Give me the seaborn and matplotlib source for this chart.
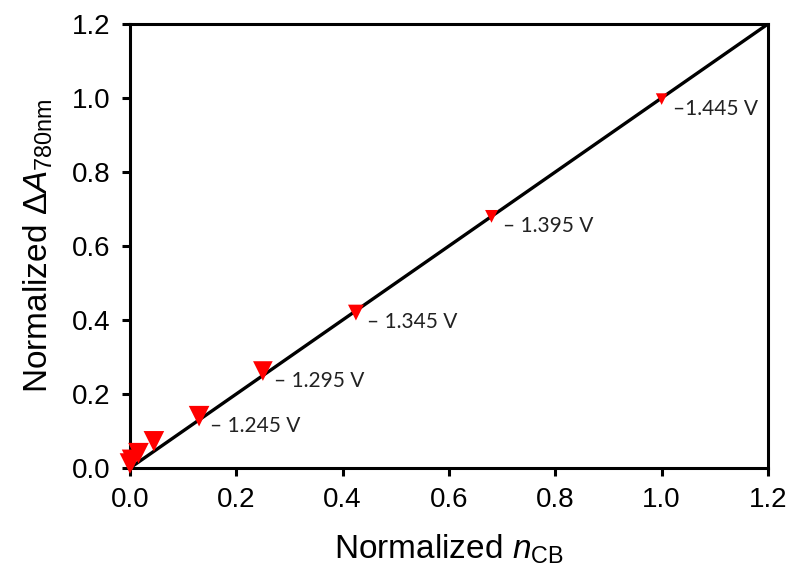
import matplotlib
matplotlib.use("Agg")
import matplotlib.pyplot as plt
import seaborn as sns
import pandas as pd

# data
n_cb = [0.0, 0.004, 0.016, 0.045, 0.13, 0.25, 0.425, 0.68, 1.0]
dA = [0.012, 0.022, 0.040, 0.072, 0.140, 0.262, 0.420, 0.680, 0.997]
marker_sizes = [220, 220, 220, 220, 220, 200, 130, 85, 70]
potentials = ["", "", "", "", "\u2013 1.245 V", "\u2013 1.295 V", "\u2013 1.345 V",
              "\u2013 1.395 V", "\u20131.445 V"]
fit_x = [0.0, 1.2]
fit_y = [0.0, 1.2]
ticks = [0.0, 0.2, 0.4, 0.6, 0.8, 1.0, 1.2]
tick_labels = ["0.0", "0.2", "0.4", "0.6", "0.8", "1.0", "1.2"]

sns.set_theme(style="white")
fam = ["Liberation Sans", "DejaVu Sans"]
plt.rcParams["font.family"] = fam
plt.rcParams["mathtext.fontset"] = "custom"
plt.rcParams["mathtext.rm"] = "Liberation Sans"
plt.rcParams["mathtext.it"] = "Liberation Sans:italic"

df = pd.DataFrame({"x": n_cb, "y": dA, "s": marker_sizes})
fit = pd.DataFrame({"x": fit_x, "y": fit_y})

fig = plt.figure(figsize=(7.91, 5.82), dpi=100)
ax = fig.add_axes([0.1643, 0.1959, 0.9709 - 0.1643, 0.9588 - 0.1959])

sns.lineplot(data=fit, x="x", y="y", color="black", linewidth=2.4, ax=ax, zorder=2)
for xi, yi, si in zip(n_cb, dA, marker_sizes):
    ax.scatter([xi], [yi], s=si, marker="v", color="#ff0000", edgecolors="none",
               zorder=3, clip_on=False)

for xi, yi, lab in zip(n_cb, dA, potentials):
    if lab:
        ax.annotate(lab, (xi, yi), xytext=(8, -7), textcoords="offset points",
                    ha="left", va="center", fontsize=15, family=["Lato", "DejaVu Sans"],
                    color="#222222")

ax.set_xlim(0, 1.2)
ax.set_ylim(0, 1.2)
ax.set_xticks(ticks)
ax.set_xticklabels(tick_labels)
ax.set_yticks(ticks)
ax.set_yticklabels(tick_labels)
ax.tick_params(axis="both", which="major", direction="out", length=6, width=2.2,
               labelsize=20, color="black", labelcolor="black", pad=8,
               bottom=True, left=True, top=False, right=False)
for sp in ax.spines.values():
    sp.set_visible(True)
    sp.set_color("black")
    sp.set_linewidth(2.2)

ax.set_xlabel(r"Normalized $\mathit{n}_{\mathrm{CB}}$", fontsize=24, labelpad=14, color="black")
ax.set_ylabel(r"Normalized $\Delta\mathit{A}_{\mathrm{780nm}}$", fontsize=24, labelpad=12, color="black")

fig.savefig("out.png", dpi=100)
